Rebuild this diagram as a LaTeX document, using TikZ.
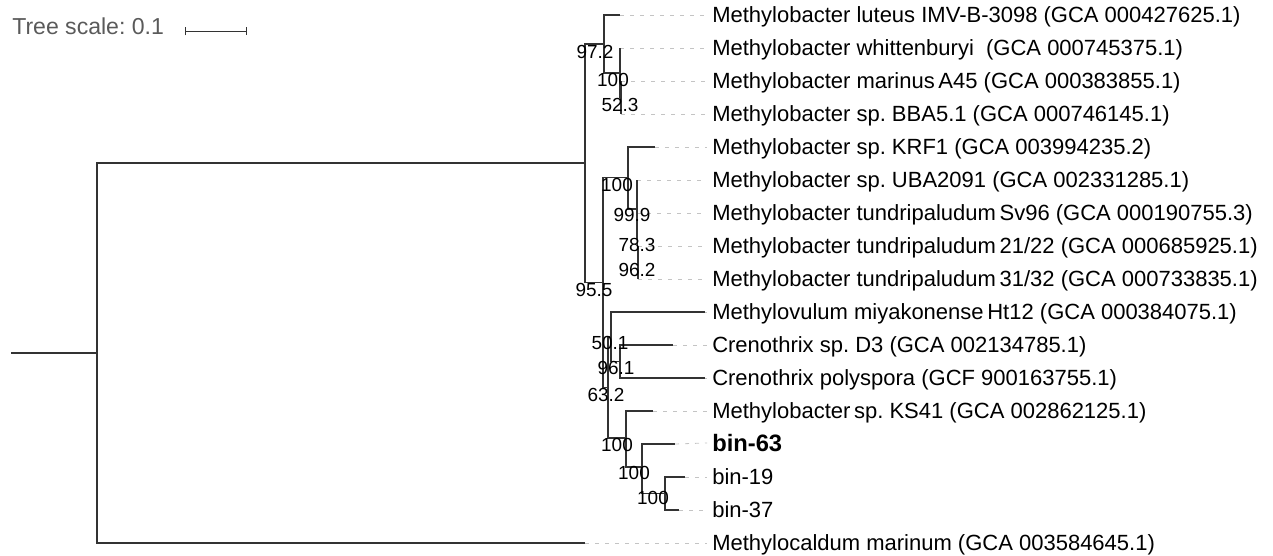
\documentclass[tikz,border=0pt]{standalone}
\usepackage{fontspec}
\setmainfont{Liberation Sans}
\usetikzlibrary{positioning,arrows.meta}
\definecolor{branchgray}{HTML}{333333}
\definecolor{leadgray}{HTML}{C4C4C4}
\definecolor{scalegray}{HTML}{5A5A5A}
\frenchspacing

\begin{document}
\begin{tikzpicture}[x=0.75pt, y=-0.75pt,
    branch/.style={draw=branchgray, line width=0.8pt},
    lead/.style={draw=leadgray, line width=0.6pt, dash pattern=on 3pt off 4.5pt},
    leaf/.style={anchor=west, inner xsep=3.75pt, inner ysep=0pt, text height=11.8pt, text depth=0pt, font=\fontsize{16.5}{18}\selectfont},
    boot/.style={inner sep=0pt, text height=10.2pt, text depth=0pt, font=\fontsize{14.2}{16}\selectfont}]
    \useasboundingbox (0,0) rectangle (1273,556);

    % Scale bar
    \node[anchor=base west, inner sep=0pt, text=scalegray, font=\fontsize{17.3}{20}\selectfont] (scale) at (12,35) {Tree scale: 0.1};
    \coordinate (sbl) at (185,31.5);
    \coordinate (sbr) at (246.5,31.5);
    \draw[branch, line width=0.7pt, {Bar[width=6pt]}-{Bar[width=6pt]}] (sbl) -- (sbr);

    % Branch ends
    \coordinate (e0) at (620,15);
    \coordinate (e1) at (620,48);
    \coordinate (e2) at (621,81);
    \coordinate (e3) at (621,114);
    \coordinate (e4) at (655,147);
    \coordinate (e5) at (637,180);
    \coordinate (e6) at (637,213);
    \coordinate (e7) at (638,246);
    \coordinate (e8) at (638,279);
    \coordinate (e9) at (705,312);
    \coordinate (e10) at (673,345);
    \coordinate (e11) at (705,378);
    \coordinate (e12) at (653,411);
    \coordinate (e13) at (675,444);
    \coordinate (e14) at (685,477);
    \coordinate (e15) at (679,510);
    \coordinate (e16) at (585,543);

    % Inner nodes
    \coordinate (base) at (11,353);
    \coordinate (root) at (97,353);
    \coordinate (ing) at (585,163);
    \coordinate (clA) at (604,44);
    \coordinate (clA2) at (620,73);
    \coordinate (clA3) at (621,97.5);
    \coordinate (clB) at (603,282.5);
    \coordinate (clK) at (628,177.5);
    \coordinate (clK2) at (637,209);
    \coordinate (clK3) at (637.5,238);
    \coordinate (clK4) at (638,262.5);
    \coordinate (clC) at (608,387.5);
    \coordinate (clM) at (611,337);
    \coordinate (clCr) at (620,361.5);
    \coordinate (clS) at (626,438);
    \coordinate (clS2) at (642,467);
    \coordinate (clS3) at (665,493.5);

    % Leaves
    \node[leaf] (l0) at (707,15) {Methylobacter luteus IMV-B-3098 (GCA 000427625.1)};
    \node[leaf] (l1) at (707,48) {Methylobacter whittenburyi~ (GCA 000745375.1)};
    \node[leaf] (l2) at (707,81) {Methylobacter marinus\,A45 (GCA 000383855.1)};
    \node[leaf] (l3) at (707,114) {Methylobacter sp. BBA5.1 (GCA 000746145.1)};
    \node[leaf] (l4) at (707,147) {Methylobacter sp. KRF1 (GCA 003994235.2)};
    \node[leaf] (l5) at (707,180) {Methylobacter sp. UBA2091 (GCA 002331285.1)};
    \node[leaf] (l6) at (707,213) {Methylobacter tundripaludum\,Sv96 (GCA 000190755.3)};
    \node[leaf] (l7) at (707,246) {Methylobacter tundripaludum\,21/22 (GCA 000685925.1)};
    \node[leaf] (l8) at (707,279) {Methylobacter tundripaludum\,31/32 (GCA 000733835.1)};
    \node[leaf] (l9) at (707,312) {Methylovulum miyakonense\,Ht12 (GCA 000384075.1)};
    \node[leaf] (l10) at (707,345) {Crenothrix sp. D3 (GCA 002134785.1)};
    \node[leaf] (l11) at (707,378) {Crenothrix polyspora (GCF 900163755.1)};
    \node[leaf] (l12) at (707,411) {Methylobacter\,sp. KS41 (GCA 002862125.1)};
    \node[leaf, text height=12.8pt, font=\fontsize{17.8}{20}\bfseries] (l13) at (707,443) {bin-63};
    \node[leaf] (l14) at (707,477) {bin-19};
    \node[leaf] (l15) at (707,510) {bin-37};
    \node[leaf] (l16) at (707,543) {Methylocaldum marinum (GCA 003584645.1)};

    % Leader lines
    \draw[lead] (e0) -- (l0.west);
    \draw[lead] (e1) -- (l1.west);
    \draw[lead] (e2) -- (l2.west);
    \draw[lead] (e3) -- (l3.west);
    \draw[lead] (e4) -- (l4.west);
    \draw[lead] (e5) -- (l5.west);
    \draw[lead] (e6) -- (l6.west);
    \draw[lead] (e7) -- (l7.west);
    \draw[lead] (e8) -- (l8.west);
    \draw[lead] (e9) -- (l9.west);
    \draw[lead] (e10) -- (l10.west);
    \draw[lead] (e11) -- (l11.west);
    \draw[lead] (e12) -- (l12.west);
    \draw[lead] (e13) -- (l13.west);
    \draw[lead] (e14) -- (l14.west);
    \draw[lead] (e15) -- (l15.west);
    \draw[lead] (e16) -- (l16.west);

    % Root and outgroup
    \draw[branch] (base) -- (root);
    \draw[branch] (root) |- (ing);
    \draw[branch] (root) |- (e16);
    \draw[branch] (ing) |- (clA);
    \draw[branch] (ing) |- (clB);

    % Methylobacter luteus clade
    \draw[branch] (clA) |- (e0);
    \draw[branch] (clA) |- (clA2);
    \draw[branch] (clA2) |- (e1);
    \draw[branch] (clA2) |- (clA3);
    \draw[branch] (clA3) |- (e2);
    \draw[branch] (clA3) |- (e3);

    % Methylobacter tundripaludum clade
    \draw[branch] (clB) |- (clK);
    \draw[branch] (clB) |- (clC);
    \draw[branch] (clK) |- (e4);
    \draw[branch] (clK) |- (clK2);
    \draw[branch] (clK2) |- (e5);
    \draw[branch] (clK2) |- (clK3);
    \draw[branch] (clK3) |- (e6);
    \draw[branch] (clK3) |- (clK4);
    \draw[branch] (clK4) |- (e7);
    \draw[branch] (clK4) |- (e8);

    % Methylovulum / Crenothrix clade
    \draw[branch] (clC) |- (clM);
    \draw[branch] (clC) |- (clS);
    \draw[branch] (clM) |- (e9);
    \draw[branch] (clM) |- (clCr);
    \draw[branch] (clCr) |- (e10);
    \draw[branch] (clCr) |- (e11);

    % bins
    \draw[branch] (clS) |- (e12);
    \draw[branch] (clS) |- (clS2);
    \draw[branch] (clS2) |- (e13);
    \draw[branch] (clS2) |- (clS3);
    \draw[branch] (clS3) |- (e14);
    \draw[branch] (clS3) |- (e15);

    % Bootstrap values
    \node[boot] (bA) at (595,52) {97.2};
    \node[boot] (bA2) at (613,80) {100};
    \node[boot] (bA3) at (620,105) {52.3};
    \node[boot] (bB) at (594,290) {95.5};
    \node[boot] (bK) at (617,185) {100};
    \node[boot] (bK2) at (632,215) {99.9};
    \node[boot] (bK3) at (637,245) {78.3};
    \node[boot] (bK4) at (637,270) {96.2};
    \node[boot] (bC) at (606,395) {63.2};
    \node[boot] (bM) at (610,343) {50.1};
    \node[boot] (bCr) at (616,368) {96.1};
    \node[boot] (bS) at (617,445) {100};
    \node[boot] (bS2) at (634,473) {100};
    \node[boot] (bS3) at (653,498) {100};
\end{tikzpicture}
\end{document}
